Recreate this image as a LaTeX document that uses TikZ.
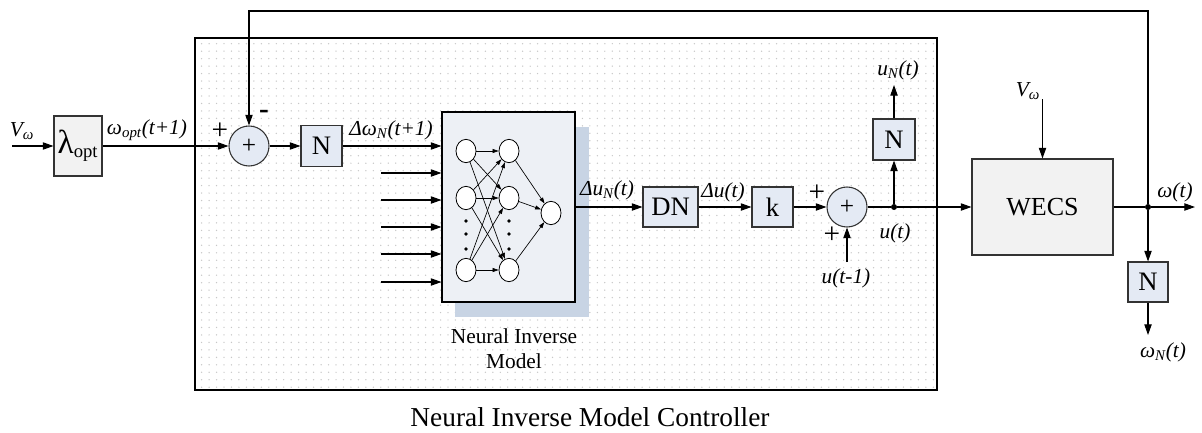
\documentclass[tikz,border=0pt]{standalone}
\usepackage{fontspec}
\setmainfont{Liberation Serif}
\usetikzlibrary{arrows.meta,patterns,shapes.geometric}
\pgfdeclarepatternformonly{softdots}{\pgfqpoint{-1pt}{-1pt}}{\pgfqpoint{1pt}{1pt}}{\pgfqpoint{5.6pt}{5.6pt}}{\pgfpathcircle{\pgfqpoint{0pt}{0pt}}{0.55pt}\pgfusepath{fill}}
\definecolor{bluefill}{HTML}{E4EAF4}
\definecolor{grayfill}{HTML}{F2F2F2}
\definecolor{nnfill}{HTML}{EDF0F5}
\definecolor{shadowc}{HTML}{C8D4E4}
\definecolor{edge}{HTML}{333333}
\begin{document}
\begin{tikzpicture}[x=0.75pt,y=-0.75pt,>={Triangle[length=8pt,width=5.5pt]},
 conn/.style={->,line width=0.8pt},
 plain/.style={line width=0.8pt},
 bbox/.style={draw=edge,line width=0.8pt,fill=bluefill,inner sep=0pt,font=\fontsize{20}{24}\selectfont},
 gbox/.style={bbox,fill=grayfill},
 sumc/.style={circle,draw=edge,line width=0.8pt,fill=bluefill,minimum size=30pt,inner sep=0pt,font=\fontsize{19}{20}\selectfont},
 lab/.style={font=\fontsize{16}{19}\selectfont\itshape,inner sep=0pt},
 sign/.style={font=\fontsize{22}{24}\selectfont,inner sep=0pt},
 neuron/.style={ellipse,draw,fill=white,minimum width=15pt,minimum height=17.5pt,inner sep=0pt,line width=0.6pt},
 small/.style={-{Triangle[length=4.5pt,width=3pt]},line width=0.5pt},
 jdot/.style={circle,fill=black,inner sep=0pt,minimum size=4.5pt}]
\useasboundingbox (0,0) rectangle (1202,432);
\fill[white] (0,0) rectangle (1202,432);
% controller frame
\fill[pattern=softdots,pattern color=black!22] (195,38) rectangle (937,390);
\draw[line width=0.9pt] (195,38) rectangle (937,390);
% blocks
\coordinate (vin) at (12,146);
\node[gbox,minimum width=36pt,minimum height=45pt] (lam) at (78,146) {{\fontsize{25}{26}\selectfont λ}\textsubscript{opt}};
\node[sumc] (s1) at (249,146) {+};
\node[bbox,minimum width=30.75pt,minimum height=30.75pt] (n1) at (321.5,146) {N};
\fill[shadowc] (455,127) rectangle (589,317);
\node[draw=black,line width=0.8pt,fill=nnfill,minimum width=99.75pt,minimum height=142.5pt,inner sep=0pt] (nn) at (508.5,207) {};
\node[bbox,minimum width=41.25pt,minimum height=30pt] (dn) at (670.5,207) {DN};
\node[bbox,minimum width=30.75pt,minimum height=30pt] (k) at (772.5,207) {k};
\node[sumc] (s2) at (847,207) {+};
\node[jdot] (ju) at (894,207) {};
\node[bbox,minimum width=31.5pt,minimum height=30.75pt] (n2) at (894,139.5) {N};
\coordinate (uN) at (894,85);
\coordinate (ut1) at (847,262);
\node[gbox,minimum width=105.75pt,minimum height=72pt,font=\fontsize{19.5}{23}\selectfont] (wecs) at (1042.5,207) {WECS};
\coordinate (vw) at (1042.5,99);
\node[jdot] (jw) at (1148,207) {};
\coordinate (wout) at (1195,207);
\node[bbox,minimum width=30pt,minimum height=30pt] (n3) at (1148,282) {N};
\coordinate (wN) at (1148,335);
\coordinate (fbR) at (1148,11);
\coordinate (fbL) at (249,11);
% neural network inside
\foreach \i/\y in {1/151,2/198,3/270}{
  \node[neuron] (a\i) at (466,\y) {};
  \node[neuron] (b\i) at (509,\y) {};
}
\node[neuron] (c) at (551,213) {};
\foreach \i in {1,2,3}{\foreach \j in {1,2,3}{\draw[small] (a\i) -- (b\j);}}
\foreach \j in {1,2,3}{\draw[small] (b\j) -- (c);}
\foreach \y in {221,234,249}{\fill (466,\y) circle (1.4pt); \fill (509,\y) circle (1.4pt);}
% extra network inputs
\foreach \k/\y in {2/173,3/200,4/227,5/254,6/282}{
  \coordinate (in\k) at (381,\y);
  \draw[conn] (in\k) -- (in\k -| nn.west);
}
% connectors
\draw[conn] (vin) -- (lam);
\draw[conn] (lam) -- (s1);
\draw[conn] (s1) -- (n1);
\draw[conn] (n1) -- (n1 -| nn.west);
\draw[conn] (nn.east) -- (dn);
\draw[conn] (dn) -- (k);
\draw[conn] (k) -- (s2);
\draw[plain] (s2) -- (ju);
\draw[conn] (ju) -- (wecs);
\draw[conn] (ju) -- (n2);
\draw[conn] (n2) -- (uN);
\draw[conn] (ut1) -- (s2);
\draw[conn] (vw) -- (wecs);
\draw[plain] (wecs) -- (jw);
\draw[conn] (jw) -- (wout);
\draw[conn] (jw) -- (n3);
\draw[conn] (n3) -- (wN);
\draw[conn] (jw) -- (fbR) -- (fbL) -- (s1);
% labels
\node[lab] at (22,131) {V\textsubscript{ω}};
\node[lab] at (147,130) {ω\textsubscript{opt}(t+1)};
\node[sign] at (220,131) {+};
\node[font=\bfseries\fontsize{22}{24}\selectfont,inner sep=0pt] at (264,114) {-};
\node[lab] at (391,130) {Δω\textsubscript{N}(t+1)};
\node[lab] at (607,190) {Δu\textsubscript{N}(t)};
\node[lab] at (723,192) {Δu(t)};
\node[sign] at (817,193) {+};
\node[sign] at (832,235) {+};
\node[lab] at (895,233) {u(t)};
\node[lab] at (846,278) {u(t-1)};
\node[lab] at (898,70) {u\textsubscript{N}(t)};
\node[lab] at (1028,91) {V\textsubscript{ω}};
\node[lab] at (1175,192) {ω(t)};
\node[lab] at (1163,352) {ω\textsubscript{N}(t)};
\node[font=\fontsize{16}{19}\selectfont,align=center] at (514,349) {Neural Inverse\\Model};
\node[font=\fontsize{20.5}{24}\selectfont] at (590,417) {Neural Inverse Model Controller};
\end{tikzpicture}
\end{document}
